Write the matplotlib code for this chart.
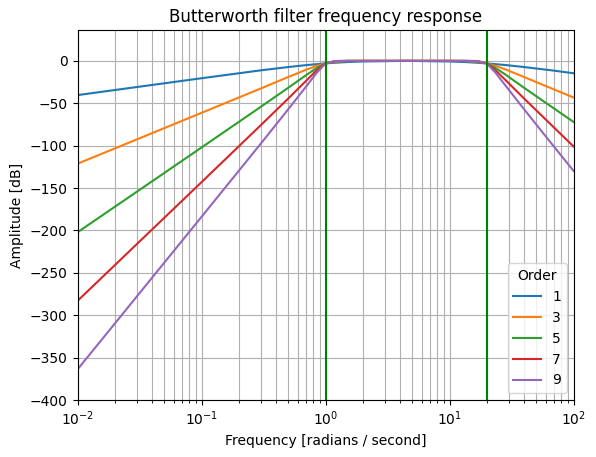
import numpy as np
import matplotlib.pyplot as plt

freq = [0.01, 0.03, 0.1, 0.3, 0.5, 0.7, 0.85, 1.0, 1.2, 1.5, 2.0, 4.47,
        10.0, 13.3, 16.7, 20.0, 23.5, 28.6, 40.0, 66.7, 100.0]

orders = [1, 3, 5, 7, 9]

# Amplitude in dB for each order
amp_1 = [-40.4, -30.9, -20.5, -11.2, -7.3, -5.0, -3.9, -3.0, -2.2, -1.4, -0.7, 0.0,
         -0.7, -1.4, -2.2, -3.0, -3.9, -5.0, -7.3, -11.2, -14.6]
amp_3 = [-121.3, -92.7, -61.3, -32.6, -19.1, -10.4, -5.9, -3.0, -1.1, -0.25, -0.02, 0.0,
         -0.02, -0.25, -1.1, -3.0, -5.9, -10.4, -19.1, -32.6, -43.2]
amp_5 = [-202.2, -154.5, -102.2, -54.3, -31.8, -16.7, -8.4, -3.0, -0.5, -0.04, 0.0, 0.0,
         0.0, -0.04, -0.5, -3.0, -8.4, -16.7, -31.8, -54.3, -72.0]
amp_7 = [-283.1, -216.3, -143.1, -76.0, -44.5, -23.3, -11.1, -3.0, -0.24, 0.0, 0.0, 0.0,
         0.0, 0.0, -0.24, -3.0, -11.1, -23.3, -44.5, -76.0, -100.9]
amp_9 = [-364.0, -278.1, -184.0, -97.8, -57.2, -30.0, -14.0, -3.0, -0.11, 0.0, 0.0, 0.0,
         0.0, 0.0, -0.11, -3.0, -14.0, -30.0, -57.2, -97.8, -129.7]

cutoffs = [1, 20]

fig = plt.figure(figsize=(5.96, 4.57), dpi=100)
ax = fig.add_axes([77.5 / 596, 1 - 400 / 457, (573.5 - 77.5) / 596, (400 - 30) / 457])

for n, amp in zip(orders, [amp_1, amp_3, amp_5, amp_7, amp_9]):
    ax.semilogx(freq, amp, label=str(n))

ax.set_title('Butterworth filter frequency response')
ax.set_xlabel('Frequency [radians / second]')
ax.set_ylabel('Amplitude [dB]')
ax.grid(which='both', axis='both')
for c in cutoffs:
    ax.axvline(c, color='green')
ax.set_xlim(0.01, 100)
ax.set_ylim(-400, 36.4)
ax.legend(title='Order', loc='lower right')

fig.savefig('out.png', dpi=100)
